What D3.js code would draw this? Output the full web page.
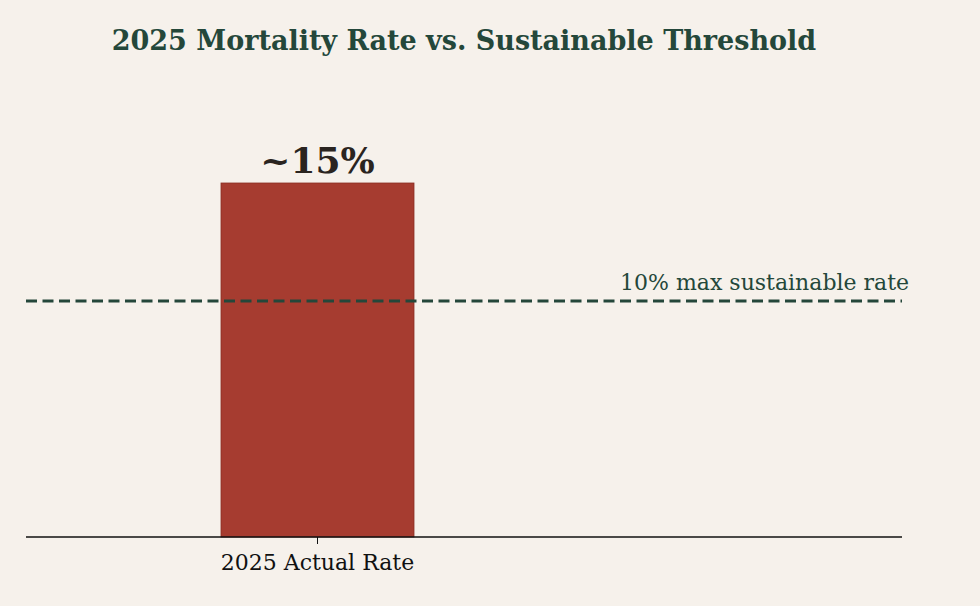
<!DOCTYPE html>
<html><head><meta charset="utf-8">
<script src="https://cdn.jsdelivr.net/npm/d3@7"></script>
<style>body{margin:0;background:#f6f1eb}</style>
</head><body>
<svg width="980" height="606"></svg>
<script>
var categories = ["2025 Actual Rate"];
var rates = [15];
var barLabels = ["~15%"];
var threshold = 10;
var thresholdLabel = "10% max sustainable rate";

var svg = d3.select("svg");
svg.append("rect").attr("width", 980).attr("height", 606).attr("fill", "#f6f1eb");

var y = d3.scaleLinear().domain([0, 15]).range([537, 183]);
var x = d3.scaleBand().domain(categories).range([221, 414]);
var font = "DejaVu Serif, serif";

svg.append("text").attr("x", 464).attr("y", 50).attr("text-anchor", "middle")
    .attr("font-family", font).attr("font-weight", "bold").attr("font-size", 27)
    .attr("fill", "#24473a").text("2025 Mortality Rate vs. Sustainable Threshold");

svg.selectAll("rect.bar").data(rates).enter().append("rect")
    .attr("class", "bar")
    .attr("x", (d, i) => x(categories[i]))
    .attr("width", x.bandwidth())
    .attr("y", d => y(d))
    .attr("height", d => y(0) - y(d))
    .attr("fill", "#a63c30").attr("stroke", "#8a2e24").attr("stroke-width", 0.8);

svg.selectAll("text.bl").data(rates).enter().append("text")
    .attr("x", (d, i) => x(categories[i]) + x.bandwidth() / 2)
    .attr("y", d => y(d) - 10)
    .attr("text-anchor", "middle").attr("font-family", font).attr("font-weight", "bold")
    .attr("font-size", 36).attr("fill", "#2a2420").text((d, i) => barLabels[i]);

svg.append("line").attr("x1", 26).attr("x2", 902).attr("y1", y(threshold)).attr("y2", y(threshold))
    .attr("stroke", "#24473a").attr("stroke-width", 3).attr("stroke-dasharray", "11,5.5");

svg.append("text").attr("x", 909).attr("y", y(threshold) - 11).attr("text-anchor", "end")
    .attr("font-family", font).attr("font-size", 22).attr("fill", "#24473a").text(thresholdLabel);

var axis = svg.append("g").attr("transform", "translate(0,537)")
    .call(d3.axisBottom(x).tickSize(7).tickSizeOuter(0));
axis.select(".domain").remove();
axis.append("line").attr("x1", 26).attr("x2", 902).attr("stroke", "#111").attr("stroke-width", 1.3);
axis.selectAll(".tick line").attr("stroke", "#111");
axis.selectAll(".tick text").attr("font-family", font).attr("font-size", 22)
    .attr("fill", "#111").attr("dy", "1.05em");
</script>
</body></html>
